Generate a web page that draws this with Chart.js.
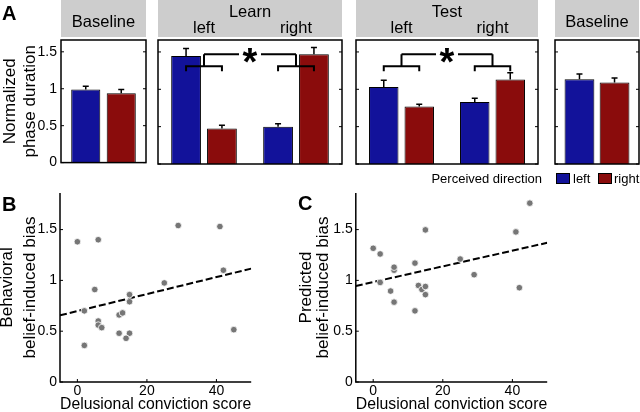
<!DOCTYPE html>
<html>
<head>
<meta charset="utf-8">
<script src="https://cdn.jsdelivr.net/npm/chart.js@4.4.0/dist/chart.umd.min.js"></script>
<style>
  html, body { margin: 0; padding: 0; background: #fff; }
  body { width: 640px; height: 412px; position: relative; overflow: hidden; font-family: "Liberation Sans", Arial, sans-serif; color: #000; }
  canvas { position: absolute; }
  .letter { position: absolute; font-weight: bold; font-size: 20px; line-height: 20px; }
  .legend-text { position: absolute; font-size: 13px; line-height: 15px; white-space: nowrap; }
  .legend-box { position: absolute; width: 14px; height: 11px; box-sizing: border-box; border: 1px solid #000; }
</style>
</head>
<body>
<canvas id="baselinePre" width="150" height="175" style="left:0;top:0"></canvas>
<canvas id="learn" width="200" height="175" style="left:150px;top:0"></canvas>
<canvas id="test" width="196" height="175" style="left:350px;top:0"></canvas>
<canvas id="baselinePost" width="92" height="175" style="left:548px;top:0"></canvas>
<canvas id="behavioral" width="260" height="240" style="left:-4px;top:180px"></canvas>
<canvas id="predicted" width="254" height="240" style="left:298px;top:180px"></canvas>

<div class="letter" style="left:2px;top:3px">A</div>
<div class="letter" style="left:2px;top:194px">B</div>
<div class="letter" style="left:298px;top:193px">C</div>
<div id="legend"></div>

<script>
'use strict';

const family = '"Liberation Sans", Arial, sans-serif';
Chart.defaults.font.family = family;
Chart.defaults.color = '#000';

// panel A: blue = perceived left, red = perceived right
const seriesNames = ['left', 'right'];
const legendTitle = 'Perceived direction';
const blueFill = '#12129a';
const redFill = '#8a0c0c';
const headerGray = '#cdcdcd';
const dotGray = '#767676';

const barTicks = [0, 0.5, 1, 1.5];

const baselinePreCats = [''];
const baselinePreLeft = [0.99];
const baselinePreLeftErr = [0.045];
const baselinePreRight = [0.94];
const baselinePreRightErr = [0.05];

const learnCats = ['left', 'right'];
const learnLeft = [1.445, 0.50];
const learnLeftErr = [0.10, 0.04];
const learnRight = [0.475, 1.47];
const learnRightErr = [0.045, 0.09];

const testCats = ['left', 'right'];
const testLeft = [1.03, 0.83];
const testLeftErr = [0.09, 0.05];
const testRight = [0.77, 1.13];
const testRightErr = [0.03, 0.09];

const baselinePostCats = [''];
const baselinePostLeft = [1.135];
const baselinePostLeftErr = [0.07];
const baselinePostRight = [1.09];
const baselinePostRightErr = [0.06];

// panels B and C
const scatterXTicks = [0, 20, 40];
const scatterYTicks = [0, 0.5, 1, 1.5];

const behaviorX = [0, 6, 29, 41, 42, 25, 5, 15, 15, 2, 12, 13, 6, 6, 7, 12, 15, 14, 2, 45];
const behaviorY = [1.38, 1.40, 1.54, 1.53, 1.10, 0.975, 0.91, 0.86, 0.79, 0.70, 0.66, 0.68, 0.60, 0.56, 0.535, 0.48, 0.48, 0.43, 0.36, 0.515];

const predictedX = [0, 2, 45, 41, 15, 12, 25, 29, 42, 6, 6, 2, 5, 6, 12, 13, 14, 15, 15];
const predictedY = [1.316, 1.26, 1.76, 1.477, 1.497, 1.17, 1.21, 1.056, 0.928, 1.10, 1.13, 0.98, 0.895, 0.786, 0.70, 0.95, 0.91, 0.86, 0.94];

const fitX = [-5, 50];
const behaviorFit = [0.656, 1.116];
const predictedFit = [0.945, 1.37];


const barPanelPlugin = {
  id: 'barPanel',
  beforeDraw(chart, args, opts) {
    const { ctx, chartArea: a, scales } = chart;
    ctx.save();
    ctx.fillStyle = headerGray;
    ctx.fillRect(a.left, 0, a.right - a.left, a.top - 3);
    ctx.fillStyle = '#000';
    ctx.textAlign = 'center';
    ctx.textBaseline = 'alphabetic';
    ctx.font = '16.5px ' + family;
    const cx = (a.left + a.right) / 2;
    const labels = chart.data.labels;
    if (labels.length > 1) {
      ctx.fillText(opts.title, cx, 17.3);
      labels.forEach((l, i) => ctx.fillText(l, scales.x.getPixelForValue(i), 32.7));
    } else {
      ctx.fillText(opts.title, cx, 26.7);
    }
    ctx.restore();
  },
  afterDatasetsDraw(chart, args, opts) {
    const { ctx, chartArea: a, scales: { y } } = chart;
    ctx.save();
    ctx.strokeStyle = '#000';

    // error bars (upper half only)
    ctx.lineWidth = 1.5;
    chart.data.datasets.forEach((ds, di) => {
      chart.getDatasetMeta(di).data.forEach((bar, i) => {
        const top = y.getPixelForValue(ds.data[i] + ds.errors[i]);
        ctx.beginPath();
        ctx.moveTo(bar.x, bar.y);
        ctx.lineTo(bar.x, top);
        ctx.moveTo(bar.x - 3, top);
        ctx.lineTo(bar.x + 3, top);
        ctx.stroke();
      });
    });

    // significance brackets
    if (opts.brackets) {
      const m0 = chart.getDatasetMeta(0).data;
      const m1 = chart.getDatasetMeta(1).data;
      const yLow = y.getPixelForValue(1.31);
      const yTick = y.getPixelForValue(1.24);
      const yHigh = y.getPixelForValue(1.47);
      const mids = [];
      ctx.lineWidth = 2;
      for (let i = 0; i < m0.length; i++) {
        const x0 = m0[i].x;
        const x1 = m1[i].x;
        const mid = (x0 + x1) / 2;
        mids.push(mid);
        ctx.beginPath();
        ctx.moveTo(x0, yTick);
        ctx.lineTo(x0, yLow);
        ctx.lineTo(x1, yLow);
        ctx.lineTo(x1, yTick);
        ctx.moveTo(mid, yLow);
        ctx.lineTo(mid, yHigh);
        ctx.stroke();
      }
      const c = (mids[0] + mids[1]) / 2;
      ctx.beginPath();
      ctx.moveTo(mids[0], yHigh);
      ctx.lineTo(c - 11, yHigh);
      ctx.moveTo(c + 11, yHigh);
      ctx.lineTo(mids[1], yHigh);
      ctx.stroke();
      ctx.fillStyle = '#000';
      ctx.textAlign = 'center';
      ctx.textBaseline = 'alphabetic';
      ctx.font = 'bold 38px ' + family;
      ctx.fillText('*', c, yHigh + 21);
    }

    // box with inward ticks on both sides
    ctx.lineWidth = 1.5;
    ctx.strokeRect(a.left, a.top, a.right - a.left, a.bottom - a.top);
    ctx.lineWidth = 1;
    ctx.beginPath();
    barTicks.forEach(v => {
      const py = y.getPixelForValue(v);
      ctx.moveTo(a.left, py);
      ctx.lineTo(a.left + 3, py);
      ctx.moveTo(a.right, py);
      ctx.lineTo(a.right - 3, py);
    });
    ctx.stroke();
    ctx.restore();
  }
};

function barPanel(id, title, cats, left, leftErr, right, rightErr, cfg) {
  const yAxis = {
    display: cfg.showAxis,
    min: 0,
    max: 1.66,
    bounds: 'data',
    afterBuildTicks: s => { s.ticks = barTicks.map(v => ({ value: v })); },
    grid: { display: false, drawTicks: false },
    border: { display: false },
    ticks: { padding: 4, font: { size: 14 }, callback: v => String(v) },
    title: {
      display: true,
      text: ['Normalized', 'phase duration'],
      font: { size: 17, lineHeight: 1.15 },
      padding: { top: 1, bottom: 0 }
    }
  };
  if (cfg.showAxis) yAxis.afterFit = s => { s.width = 61; };

  const common = { borderColor: '#000', borderWidth: 1, categoryPercentage: cfg.cat, barPercentage: cfg.bar };
  return new Chart(document.getElementById(id), {
    type: 'bar',
    data: {
      labels: cats,
      datasets: [
        Object.assign({ label: seriesNames[0], data: left, errors: leftErr, backgroundColor: blueFill }, common),
        Object.assign({ label: seriesNames[1], data: right, errors: rightErr, backgroundColor: redFill }, common)
      ]
    },
    options: {
      responsive: false,
      animation: false,
      devicePixelRatio: 1,
      layout: { padding: cfg.padding },
      plugins: {
        legend: { display: false },
        tooltip: { enabled: false },
        barPanel: { title: title, brackets: cfg.brackets }
      },
      scales: {
        x: { display: false },
        y: yAxis
      }
    },
    plugins: [barPanelPlugin]
  });
}

barPanel('baselinePre', 'Baseline', baselinePreCats, baselinePreLeft, baselinePreLeftErr, baselinePreRight, baselinePreRightErr,
  { showAxis: true, cat: 0.835, bar: 0.82, brackets: false, padding: { top: 40, right: 4, bottom: 11, left: 0 } });
barPanel('learn', 'Learn', learnCats, learnLeft, learnLeftErr, learnRight, learnRightErr,
  { showAxis: false, cat: 0.78, bar: 0.83, brackets: true, padding: { top: 40, right: 8, bottom: 11, left: 8 } });
barPanel('test', 'Test', testCats, testLeft, testLeftErr, testRight, testRightErr,
  { showAxis: false, cat: 0.78, bar: 0.83, brackets: true, padding: { top: 40, right: 8, bottom: 11, left: 6 } });
barPanel('baselinePost', 'Baseline', baselinePostCats, baselinePostLeft, baselinePostLeftErr, baselinePostRight, baselinePostRightErr,
  { showAxis: false, cat: 0.835, bar: 0.85, brackets: false, padding: { top: 40, right: 1, bottom: 11, left: 7 } });


const scatterAxesPlugin = {
  id: 'scatterAxes',
  beforeDatasetsDraw(chart) {
    const { ctx, chartArea: a, scales: { x, y } } = chart;
    ctx.save();
    ctx.strokeStyle = '#000';
    ctx.lineWidth = 1.5;
    ctx.beginPath();
    ctx.moveTo(a.left, a.top);
    ctx.lineTo(a.left, a.bottom);
    ctx.lineTo(a.right, a.bottom);
    ctx.stroke();
    ctx.lineWidth = 1;
    ctx.beginPath();
    scatterXTicks.forEach(v => {
      const px = x.getPixelForValue(v);
      ctx.moveTo(px, a.bottom);
      ctx.lineTo(px, a.bottom - 3);
    });
    scatterYTicks.forEach(v => {
      const py = y.getPixelForValue(v);
      ctx.moveTo(a.left, py);
      ctx.lineTo(a.left + 3, py);
    });
    ctx.stroke();
    ctx.restore();
  }
};

function scatterPanel(id, xs, ys, fit, yTitle, cfg) {
  return new Chart(document.getElementById(id), {
    type: 'scatter',
    data: {
      datasets: [
        {
          data: xs.map((x, i) => ({ x: x, y: ys[i] })),
          backgroundColor: dotGray,
          borderColor: '#fff',
          borderWidth: 0.8,
          pointRadius: 3.3
        },
        {
          data: fitX.map((x, i) => ({ x: x, y: fit[i] })),
          showLine: true,
          borderColor: '#000',
          borderWidth: 2,
          borderDash: [7, 3],
          pointRadius: 0,
          fill: false
        }
      ]
    },
    options: {
      responsive: false,
      animation: false,
      devicePixelRatio: 1,
      layout: { padding: { top: 13, right: cfg.right, bottom: 0, left: 0 } },
      plugins: { legend: { display: false }, tooltip: { enabled: false } },
      scales: {
        x: {
          type: 'linear',
          min: -5,
          max: 50,
          bounds: 'data',
          afterBuildTicks: s => { s.ticks = scatterXTicks.map(v => ({ value: v })); },
          afterFit: s => { s.height = 38; },
          grid: { display: false, drawTicks: false },
          border: { display: false },
          ticks: { padding: 1, font: { size: 14 }, callback: v => String(v) },
          title: { display: true, text: 'Delusional conviction score', font: { size: 17 }, padding: { top: 0, bottom: 5.8 } }
        },
        y: {
          min: 0,
          max: 1.86,
          bounds: 'data',
          afterBuildTicks: s => { s.ticks = scatterYTicks.map(v => ({ value: v })); },
          afterFit: s => { s.width = cfg.axisWidth; },
          grid: { display: false, drawTicks: false },
          border: { display: false },
          ticks: { padding: 3, font: { size: 14 }, callback: v => String(v) },
          title: { display: true, text: yTitle, font: { size: 17, lineHeight: cfg.lineHeight }, padding: { top: 0, bottom: 0 } }
        }
      }
    },
    plugins: [scatterAxesPlugin]
  });
}

scatterPanel('behavioral', behaviorX, behaviorY, behaviorFit, ['Behavioral', 'belief-induced bias'],
  { axisWidth: 64, right: 4.5, lineHeight: 1.36 });
scatterPanel('predicted', predictedX, predictedY, predictedFit, ['Predicted', 'belief-induced bias'],
  { axisWidth: 57.8, right: 4, lineHeight: 1.0 });


// legend for panel A, built from the series names and colours
const legend = document.getElementById('legend');
function addLegend(html, cls, left, top, extra) {
  const el = document.createElement('div');
  el.className = cls;
  el.style.left = left + 'px';
  el.style.top = top + 'px';
  if (extra) Object.assign(el.style, extra);
  if (html) el.textContent = html;
  legend.appendChild(el);
}
addLegend(legendTitle, 'legend-text', 400, 171.3, { width: '142px', textAlign: 'right' });
addLegend('', 'legend-box', 556, 173, { background: blueFill });
addLegend(seriesNames[0], 'legend-text', 573, 171.3);
addLegend('', 'legend-box', 598, 173, { background: redFill });
addLegend(seriesNames[1], 'legend-text', 614, 171.3);
</script>
</body>
</html>
